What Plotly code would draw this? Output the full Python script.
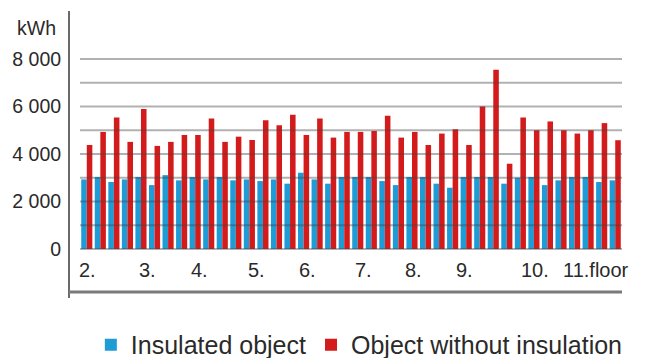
import plotly.graph_objects as go

# ---- data ----
bar_index = list(range(40))
insulated = [2930, 3030, 2820, 2930, 3030, 2690, 3110, 2890, 3030, 2930,
             3030, 2890, 2930, 2860, 2930, 2750, 3210, 2930, 2750, 3030,
             3030, 3030, 2860, 2690, 3030, 3030, 2750, 2580, 3030, 3030,
             3030, 2750, 3000, 3030, 2690, 2890, 3030, 3030, 2820, 2890]
not_insulated = [4380, 4930, 5540, 4510, 5890, 4340, 4510, 4800, 4800, 5490,
                 4510, 4730, 4590, 5420, 5210, 5650, 4800, 5490, 4690, 4930,
                 4930, 4970, 5610, 4690, 4930, 4380, 4860, 5040, 4380, 6000,
                 7550, 3590, 5540, 5000, 5370, 5000, 4860, 5000, 5300, 4580]
floor_labels = ["2.", "3.", "4.", "5.", "6.", "7.", "8.", "9.", "10.", "11.floor"]
ytick_vals = [0, 2000, 4000, 6000, 8000]
ytick_text = ["0", "2 000", "4 000", "6 000", "8 000"]
series_names = ["Insulated object", "Object without insulation"]

# ---- styling ----
floor_label_pos = [0.05, 4.5, 8.35, 12.55, 16.3, 20.4, 24.1, 27.9, 33.1, 37.6]
FONT = "Liberation Sans, Arial, sans-serif"
TXT = "#2a2a2a"
BLUE = "#1f9bd6"
RED = "#d41b1b"

fig = go.Figure()
fig.add_trace(go.Bar(x=bar_index, y=insulated, name=series_names[0],
                     marker=dict(color=BLUE, line=dict(width=0))))
fig.add_trace(go.Bar(x=bar_index, y=not_insulated, name=series_names[1],
                     marker=dict(color=RED, line=dict(width=0))))

# gridlines drawn above bars (as in the reference)
for v in range(0, 8001, 1000):
    fig.add_shape(type="line", xref="paper", yref="y", x0=0, x1=1, y0=v, y1=v,
                  line=dict(color="rgba(70,70,70,0.42)", width=2), layer="above")

# axis lines
fig.add_shape(type="line", xref="paper", yref="paper", x0=-0.0203, x1=-0.0203,
              y0=-0.0255, y1=1.196, line=dict(color="#6a6a6a", width=2))
fig.add_shape(type="line", xref="paper", yref="paper", x0=-0.0203, x1=1.0,
              y0=0, y1=0, line=dict(color="#7a7a7a", width=3))

# floor labels
for lab, pos in zip(floor_labels, floor_label_pos):
    fig.add_annotation(x=pos, y=-900, xref="x", yref="y", text=lab, showarrow=False,
                       xanchor="center", yanchor="middle",
                       font=dict(family=FONT, size=20, color=TXT))

fig.add_annotation(x=-0.12, y=1.1234, xref="paper", yref="paper", text="kWh",
                   showarrow=False, xanchor="left", yanchor="middle",
                   font=dict(family=FONT, size=19.5, color=TXT))

fig.update_layout(
    width=648, height=358,
    margin=dict(l=80, r=26, t=57, b=66, autoexpand=False),
    paper_bgcolor="white", plot_bgcolor="white",
    barmode="group", bargap=0.18, bargroupgap=0,
    font=dict(family=FONT, color=TXT),
    showlegend=True,
    legend=dict(orientation="h", x=0.02, xanchor="left", y=-0.2255, yanchor="middle",
                font=dict(family=FONT, size=25, color=TXT), itemwidth=30,
                bgcolor="rgba(0,0,0,0)"),
    xaxis=dict(range=[-0.5, 39.5], showticklabels=False, showgrid=False,
               zeroline=False, showline=False, ticks=""),
    yaxis=dict(range=[-1811, 8084], tickvals=ytick_vals, ticktext=ytick_text,
               showgrid=False, zeroline=False, showline=False,
               ticks="outside", ticklen=14, tickcolor="rgba(0,0,0,0)",
               tickfont=dict(family=FONT, size=19.5, color=TXT)),
)

fig.write_html("out.html",
               config={"displayModeBar": False},
               post_script="document.body.style.margin='0px';document.body.style.overflow='hidden';")
